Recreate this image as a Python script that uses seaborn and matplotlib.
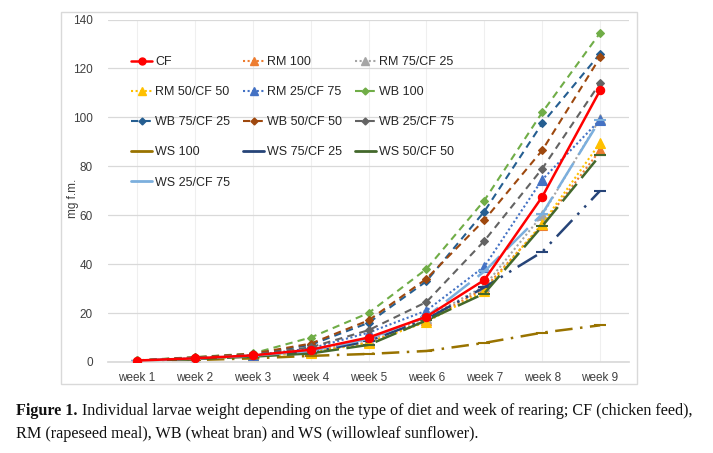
import matplotlib
matplotlib.use("Agg")
import matplotlib.pyplot as plt
from matplotlib.lines import Line2D
from matplotlib.patches import Rectangle
import seaborn as sns
import pandas as pd

weeks = ["week 1", "week 2", "week 3", "week 4", "week 5", "week 6", "week 7", "week 8", "week 9"]

cf = [0.6, 1.5, 2.7, 5.0, 10.0, 18.5, 33.5, 67.5, 111.0]
rm100 = [0.5, 1.3, 2.5, 4.0, 8.0, 17.0, 30.0, 56.0, 86.5]
rm75 = [0.5, 1.4, 2.6, 4.5, 9.0, 18.0, 31.0, 60.0, 99.5]
rm50 = [0.5, 1.2, 2.3, 3.8, 7.8, 16.4, 29.0, 56.5, 89.5]
rm25 = [0.6, 1.5, 2.8, 5.5, 12.0, 21.0, 39.0, 74.5, 99.0]
wb100 = [0.7, 2.0, 3.5, 10.0, 20.0, 38.0, 66.0, 102.0, 134.5]
wb75 = [0.6, 1.8, 3.2, 7.0, 16.0, 33.0, 61.5, 97.5, 126.0]
wb50 = [0.6, 1.9, 3.4, 7.5, 17.0, 34.0, 58.0, 86.5, 124.5]
wb25 = [0.6, 1.7, 3.0, 6.0, 13.0, 24.5, 49.5, 79.0, 114.0]
ws100 = [0.5, 0.8, 1.5, 2.5, 3.3, 4.5, 7.8, 12.0, 15.0]
ws75 = [0.5, 1.3, 2.5, 4.0, 8.5, 17.5, 30.5, 45.0, 70.0]
ws50 = [0.5, 1.2, 2.2, 3.5, 7.0, 17.0, 28.0, 55.5, 84.5]
ws25 = [0.5, 1.4, 2.6, 4.5, 9.5, 18.5, 37.0, 60.5, 99.0]

names = ["CF", "RM 100", "RM 75/CF 25", "RM 50/CF 50", "RM 25/CF 75", "WB 100",
         "WB 75/CF 25", "WB 50/CF 50", "WB 25/CF 75", "WS 100", "WS 75/CF 25",
         "WS 50/CF 50", "WS 25/CF 75"]
series = [cf, rm100, rm75, rm50, rm25, wb100, wb75, wb50, wb25, ws100, ws75, ws50, ws25]

colors = ["#FF0000", "#ED7D31", "#A5A5A5", "#FFC000", "#4472C4", "#70AD47",
          "#255E91", "#9E480E", "#636363", "#997300", "#264478", "#43682B", "#7CAFDD"]
dot = (0, (1, 1.2))
dash = (0, (3.5, 2.5))
styles = ["-", dot, dot, dot, dot, dash, dash, dash, dash,
          (0, (7, 3, 1, 3)), (0, (9, 3, 1, 3, 1, 3)), (0, (9, 3)), (0, (12, 4))]
markers = ["o", "^", "^", "^", "^", "D", "D", "D", "D", "_", "_", "_", "_"]
msizes = [6, 7, 7, 7, 7, 4.5, 4.5, 4.5, 4.5, 9, 9, 9, 9]
lws = [1.8, 1.5, 1.5, 1.5, 1.5, 1.5, 1.5, 1.5, 1.5, 1.8, 1.8, 1.8, 1.8]

sns.set_theme(style="white")
plt.rcParams["font.family"] = ["Liberation Sans", "DejaVu Sans"]

fig = plt.figure(figsize=(7.13, 4.53), dpi=100)
ax = fig.add_axes([108/713, 1-362/453, (629-108)/713, (362-19.5)/453])

fig.patches.append(Rectangle((61/713, 1-384/453), (637-61)/713, (384-12)/453,
                             transform=fig.transFigure, fill=False,
                             edgecolor="#D9D9D9", linewidth=1.0, zorder=0))

xpos = list(range(len(weeks)))
for i in range(len(names)):
    df = pd.DataFrame({"x": xpos, "y": series[i]})
    sns.lineplot(data=df, x="x", y="y", ax=ax, color=colors[i], linestyle=styles[i],
                 linewidth=lws[i], marker=markers[i], markersize=msizes[i],
                 markeredgecolor=colors[i], markeredgewidth=1.5 if markers[i] == "_" else 0.8,
                 zorder=3 if i == 0 else 2)

ax.set_xlim(-0.5, 8.5)
ax.set_ylim(0, 140)
ax.set_yticks(range(0, 141, 20))
ax.set_xticks(xpos)
ax.set_xticklabels(weeks)
ax.set_xlabel("")
ax.set_ylabel("")
ax.grid(True, axis="y", color="#D9D9D9", linewidth=0.9)
ax.grid(True, axis="x", color="#EFEFEF", linewidth=0.8)
ax.set_axisbelow(True)
for s in ["top", "right", "left"]:
    ax.spines[s].set_visible(False)
ax.spines["bottom"].set_color("#D9D9D9")
ax.tick_params(axis="both", length=0, labelsize=8.5, colors="#404040")
ax.tick_params(axis="y", pad=11)
ax.tick_params(axis="x", pad=7)

fig.text(73/713, 1-198/453, "mg f.m.", rotation=90, ha="center", va="center",
         fontsize=8.5, color="#404040")

handles = []
for i in range(len(names)):
    if markers[i] == "_":
        h = Line2D([], [], color=colors[i], linestyle="-", linewidth=2.0)
    else:
        h = Line2D([], [], color=colors[i], linestyle=styles[i], linewidth=lws[i],
                   marker=markers[i], markersize=msizes[i] - 1, markeredgecolor=colors[i])
    handles.append(h)
# matplotlib fills legend columns first; reorder so entries read row by row
leg_order = [0, 3, 6, 9, 12, 1, 4, 7, 10, 2, 5, 8, 11]
leg = ax.legend([handles[k] for k in leg_order], [names[k] for k in leg_order],
                ncol=3, frameon=False, fontsize=9,
                loc="upper left", bbox_to_anchor=(126/713, 1-51/453),
                bbox_transform=fig.transFigure, handlelength=1.7, handletextpad=0.25,
                columnspacing=1.0, labelspacing=1.45, borderaxespad=0)
for t in leg.get_texts():
    t.set_color("#262626")

serif = ["Liberation Serif", "DejaVu Serif"]
fs = 11.6
t1 = fig.text(16/713, 1-411/453, "Figure 1.", fontsize=fs, fontweight="bold",
              family=serif, va="center", ha="left", color="#111111")
fig.canvas.draw()
bb = t1.get_window_extent()
fig.text((bb.x1 + 4)/713, 1-411/453,
         "Individual larvae weight depending on the type of diet and week of rearing; CF (chicken feed),",
         fontsize=fs, family=serif, va="center", ha="left", color="#111111")
fig.text(16/713, 1-434/453,
         "RM (rapeseed meal), WB (wheat bran) and WS (willowleaf sunflower).",
         fontsize=fs, family=serif, va="center", ha="left", color="#111111")

fig.savefig("out.png", dpi=100)
